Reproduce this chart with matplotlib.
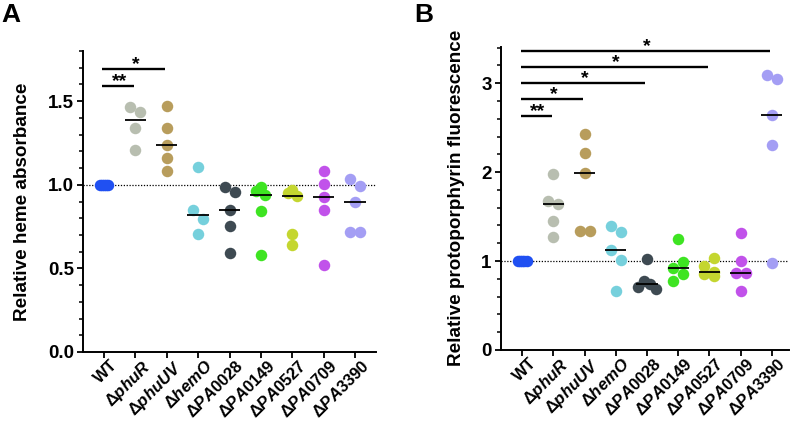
import numpy as np
import matplotlib
matplotlib.use('Agg')
import matplotlib.pyplot as plt
import matplotlib.transforms as mtrans
from matplotlib.ticker import MultipleLocator

plt.rcParams['font.family'] = ['Liberation Sans', 'DejaVu Sans']
plt.rcParams['font.weight'] = 'bold'
plt.rcParams['mathtext.fontset'] = 'custom'
plt.rcParams['mathtext.rm'] = 'Liberation Sans'
plt.rcParams['mathtext.it'] = 'Liberation Sans:italic:bold'
plt.rcParams['mathtext.bf'] = 'Liberation Sans:bold'

# ---------------- data ----------------
strains = ['WT', 'phuR', 'phuUV', 'hemO', 'PA0028', 'PA0149', 'PA0527', 'PA0709', 'PA3390']
colors = ['#2050f2', '#b8beb0', '#b89d5c', '#76d0dc', '#3e4a52',
          '#3ee422', '#c4d630', '#c152ea', '#a49ef4']

# Panel A: relative heme absorbance
heme_WT = [1.0, 1.0, 1.0, 1.0, 1.0]
heme_phuR = [1.465, 1.437, 1.341, 1.210]
heme_phuUV = [1.471, 1.337, 1.238, 1.160, 1.080]
heme_hemO = [1.106, 0.850, 0.794, 0.705]
heme_PA0028 = [0.984, 0.956, 0.852, 0.754, 0.591]
heme_PA0149 = [0.984, 0.964, 0.936, 0.844, 0.579]
heme_PA0527 = [0.968, 0.948, 0.930, 0.705, 0.639]
heme_PA0709 = [1.082, 1.004, 0.928, 0.852, 0.519]
heme_PA3390 = [1.036, 0.992, 0.900, 0.717, 0.717]

# Panel B: relative protoporphyrin fluorescence
ppix_WT = [1.0, 1.0, 1.0, 1.0, 1.0]
ppix_phuR = [1.978, 1.670, 1.640, 1.453, 1.274]
ppix_phuUV = [2.423, 2.217, 1.985, 1.341, 1.341]
ppix_hemO = [1.397, 1.330, 1.124, 1.008, 0.659]
ppix_PA0028 = [1.022, 0.780, 0.740, 0.710, 0.690]
ppix_PA0149 = [1.243, 0.985, 0.920, 0.850, 0.779]
ppix_PA0527 = [1.030, 0.950, 0.880, 0.860, 0.830]
ppix_PA0709 = [1.311, 1.004, 0.861, 0.861, 0.663]
ppix_PA3390 = [3.097, 3.052, 2.637, 2.303, 0.974]

heme_groups = [heme_WT, heme_phuR, heme_phuUV, heme_hemO, heme_PA0028,
               heme_PA0149, heme_PA0527, heme_PA0709, heme_PA3390]
ppix_groups = [ppix_WT, ppix_phuR, ppix_phuUV, ppix_hemO, ppix_PA0028,
               ppix_PA0149, ppix_PA0527, ppix_PA0709, ppix_PA3390]

# significance brackets: (compared strain index, label, bar height)
sig_A = [(1, '**', 1.59), (2, '*', 1.69)]
sig_B = [(1, '**', 2.63), (2, '*', 2.82), (4, '*', 3.00), (6, '*', 3.18), (8, '*', 3.36)]

ylabel_A = 'Relative heme absorbance'
ylabel_B = 'Relative protoporphyrin fluorescence'


def tick_label(name):
    if name == 'WT':
        return 'WT'
    return r'$\mathrm{\Delta}\mathit{' + name + '}$'


W, H = 794, 422
fig = plt.figure(figsize=(W / 100, H / 100), dpi=100)


def px_axes(left, top, right, bottom):
    return fig.add_axes([left / W, 1 - bottom / H, (right - left) / W, (bottom - top) / H])


axA = px_axes(83, 51, 376, 352)
axB = px_axes(500.7, 46.7, 789, 350)

DIAM = 11.5  # marker diameter in pixels
MS = DIAM * 72 / 100


def swarm_x(ax, x0, vals, diam=DIAM, thresh=11.0):
    vals = np.asarray(vals, float)
    t = ax.transData
    ypx = np.array([t.transform((x0, v))[1] for v in vals])
    px_per_x = t.transform((1, 0))[0] - t.transform((0, 0))[0]
    order = list(np.argsort(-vals, kind='stable'))
    clusters = [[order[0]]]
    for i in order[1:]:
        if abs(ypx[clusters[-1][-1]] - ypx[i]) < thresh:
            clusters[-1].append(i)
        else:
            clusters.append([i])
    offs = np.zeros(len(vals))
    for c in clusters:
        n = len(c)
        if n == 1:
            continue
        rng = abs(ypx[c[0]] - ypx[c[-1]])
        if rng < diam:
            if n == 2:
                seq = [-5.0, 5.0]
            else:
                if rng < 1:
                    h = 2.2
                else:
                    h = 4.5 if n == 3 else 3.0
                if n % 2:
                    seq = [0.0] + [s * k * h for k in range(1, n) for s in (-1, 1)]
                else:
                    seq = [s * (k - 0.5) * h * 2 for k in range(1, n) for s in (-1, 1)]
        else:
            seq = [5.0 if j % 2 == 0 else -5.0 for j in range(n)]
        for j, idx in enumerate(c):
            offs[idx] = seq[j]
    return x0 + offs / px_per_x


def draw_panel(ax, groups, ylim, major, minor, fmt, ylabel, sigs, xlim):
    ax.set_xlim(*xlim)
    ax.set_ylim(*ylim)
    for s in ['top', 'right']:
        ax.spines[s].set_visible(False)
    for s in ['left', 'bottom']:
        ax.spines[s].set_linewidth(1.4)
    ax.axhline(1.0, color='black', lw=0.9, ls=(0, (1, 1.3)), zorder=1)
    for i, vals in enumerate(groups):
        xs = swarm_x(ax, i, vals)
        ax.plot(xs, vals, 'o', ms=MS, color=colors[i], mec='none', zorder=3, clip_on=False)
        if i > 0:
            med = np.median(vals)
            ax.hlines(med, i - 0.34, i + 0.34, color='black', lw=1.3, zorder=4)
    for k, lab, yb in sigs:
        ax.plot([-0.05, k - 0.05], [yb, yb], color='black', lw=1.7, clip_on=False,
                solid_capstyle='butt')
        ax.annotate(lab, xy=(k / 2, yb), xytext=(0, -3), textcoords='offset points',
                    ha='center', va='bottom', fontsize=14, fontweight='bold',
                    annotation_clip=False)
    ax.yaxis.set_major_locator(MultipleLocator(major))
    ax.yaxis.set_minor_locator(MultipleLocator(minor))
    ax.yaxis.set_major_formatter(plt.FuncFormatter(lambda v, p: fmt.format(v)))
    ax.tick_params(axis='y', which='major', length=4.5, width=1.3, labelsize=13.5, pad=2)
    ax.tick_params(axis='y', which='minor', length=3, width=1.1)
    ax.set_xticks(range(len(strains)))
    ax.set_xticklabels([tick_label(s) for s in strains], rotation=45, ha='right',
                       va='top', rotation_mode='anchor', fontsize=12, fontweight='bold')
    ax.tick_params(axis='x', which='major', length=4.5, width=1.3, pad=1)
    shift = mtrans.ScaledTranslation(6 / 100, 2 / 100, fig.dpi_scale_trans)
    for lbl in ax.get_xticklabels():
        lbl.set_transform(lbl.get_transform() + shift)
    ax.set_ylabel(ylabel, fontsize=13.6, fontweight='bold', labelpad=12)


draw_panel(axA, heme_groups, (0, 1.80), 0.5, 0.1, '{:.1f}', ylabel_A, sig_A, (-0.67, 8.67))
draw_panel(axB, ppix_groups, (0, 3.41), 1, 0.2, '{:.0f}', ylabel_B, sig_B, (-0.69, 8.555))

fig.text(1 / W, 1 - 3 / H, 'A', fontsize=19, fontweight='bold', ha='left', va='top')
fig.text(414 / W, 1 - 3 / H, 'B', fontsize=19, fontweight='bold', ha='left', va='top')

fig.savefig('out.png', dpi=100)
